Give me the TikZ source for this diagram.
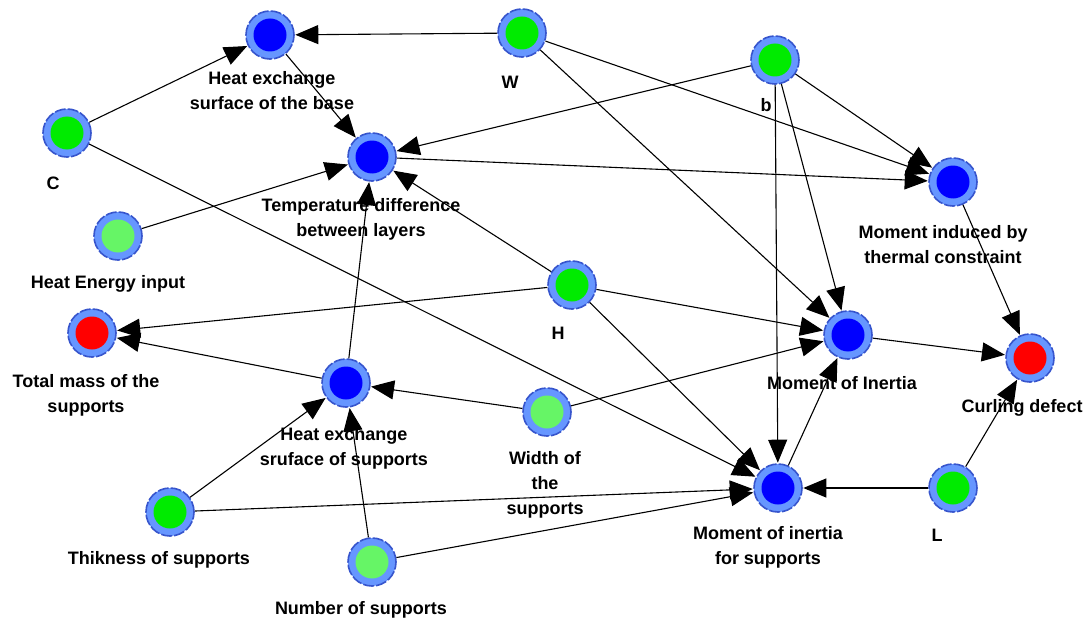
\documentclass[tikz,border=0pt]{standalone}
\usepackage{fontspec}
\setmainfont{Liberation Sans}
\usetikzlibrary{arrows.meta}
\definecolor{ringfill}{RGB}{102,150,255}
\definecolor{ringedge}{RGB}{55,85,205}
\definecolor{nblue}{RGB}{0,0,255}
\definecolor{ngreen}{RGB}{0,235,0}
\definecolor{nlight}{RGB}{102,245,102}
\definecolor{nred}{RGB}{255,0,0}
\tikzset{
  vtx/.style={circle, minimum size=48pt, inner sep=0pt, fill=ringfill,
    draw=ringedge, line width=1.6pt, dash pattern=on 11pt off 2pt,
    path picture={\fill[#1] (path picture bounding box.center) circle (16.5);}},
  lbl/.style={font=\bfseries\fontsize{18}{25}\selectfont, align=center, inner sep=0pt},
  edge/.style={draw=black, line width=1.1pt,
    -{Triangle[length=23pt,width=19pt]}, shorten >=0.5pt}
}
\begin{document}
\begin{tikzpicture}[x=1pt,y=-1pt]
\useasboundingbox (0,0) rectangle (1089,623);
\fill[white] (0,0) rectangle (1089,623);

% variables
\node[vtx=nblue]  (heb) at (270,35)  {};
\node[vtx=ngreen] (w)   at (522,33)  {};
\node[vtx=ngreen] (b)   at (775,60)  {};
\node[vtx=ngreen] (c)   at (67,133)  {};
\node[vtx=nblue]  (td)  at (372,157) {};
\node[vtx=nblue]  (mit) at (953,182) {};
\node[vtx=nlight] (hei) at (118,236) {};
\node[vtx=ngreen] (h)   at (572,285) {};
\node[vtx=nred]   (tm)  at (92,333)  {};
\node[vtx=nblue]  (mi)  at (848,335) {};
\node[vtx=nred]   (cd)  at (1030,358) {};
\node[vtx=nblue]  (hes) at (346,383) {};
\node[vtx=nlight] (ws)  at (547,412) {};
\node[vtx=nblue]  (mis) at (778,488) {};
\node[vtx=ngreen] (l)   at (953,488) {};
\node[vtx=ngreen] (ts)  at (170,512) {};
\node[vtx=nlight] (ns)  at (372,562) {};

% labels
\node[lbl] (heb-l) at (272,90.5)  {Heat exchange\\surface of the base};
\node[lbl] (w-l)   at (510,82)    {W};
\node[lbl] (b-l)   at (766,105)   {b};
\node[lbl] (c-l)   at (53,183)    {C};
\node[lbl] (td-l)  at (361,219.5) {Temperature difference\\between layers};
\node[lbl] (mit-l) at (943,244.5) {Moment induced by\\thermal constraint};
\node[lbl] (hei-l) at (108,284)   {Heat Energy input};
\node[lbl] (h-l)   at (558,333)   {H};
\node[lbl] (tm-l)  at (86,395.5)  {Total mass of the\\supports};
\node[lbl] (mi-l)  at (842,383)   {Moment of Inertia};
\node[lbl] (cd-l)  at (1022,408)  {Curling defect};
\node[lbl] (hes-l) at (344,448)   {Heat exchange\\sruface of supports};
\node[lbl] (ws-l)  at (545,485)   {Width of\\the\\supports};
\node[lbl] (mis-l) at (768,547.5) {Moment of inertia\\for supports};
\node[lbl] (l-l)   at (937,535)   {L};
\node[lbl] (ts-l)  at (159,560)   {Thikness of supports};
\node[lbl] (ns-l)  at (361,610)   {Number of supports};

% influences
\draw[edge] (w) -- (heb);
\draw[edge] (c) -- (heb);
\draw[edge] (heb) -- (td);
\draw[edge] (b) -- (td);
\draw[edge] (hei) -- (td);
\draw[edge] (h) -- (td);
\draw[edge] (hes) -- (td);
\draw[edge] (td) -- (mit);
\draw[edge] (w) -- (mit);
\draw[edge] (b) -- (mit);
\draw[edge] (b) -- (mi);
\draw[edge] (b) -- (mis);
\draw[edge] (w) -- (mi);
\draw[edge] (mit) -- (cd);
\draw[edge] (h) -- (tm);
\draw[edge] (hes) -- (tm);
\draw[edge] (h) -- (mi);
\draw[edge] (h) -- (mis);
\draw[edge] (c) -- (mis);
\draw[edge] (ws) -- (hes);
\draw[edge] (ws) -- (mi);
\draw[edge] (mi) -- (cd);
\draw[edge] (mis) -- (mi);
\draw[edge] (l) -- (mis);
\draw[edge] (l) -- (cd);
\draw[edge] (ts) -- (hes);
\draw[edge] (ts) -- (mis);
\draw[edge] (ns) -- (hes);
\draw[edge] (ns) -- (mis);
\end{tikzpicture}
\end{document}
